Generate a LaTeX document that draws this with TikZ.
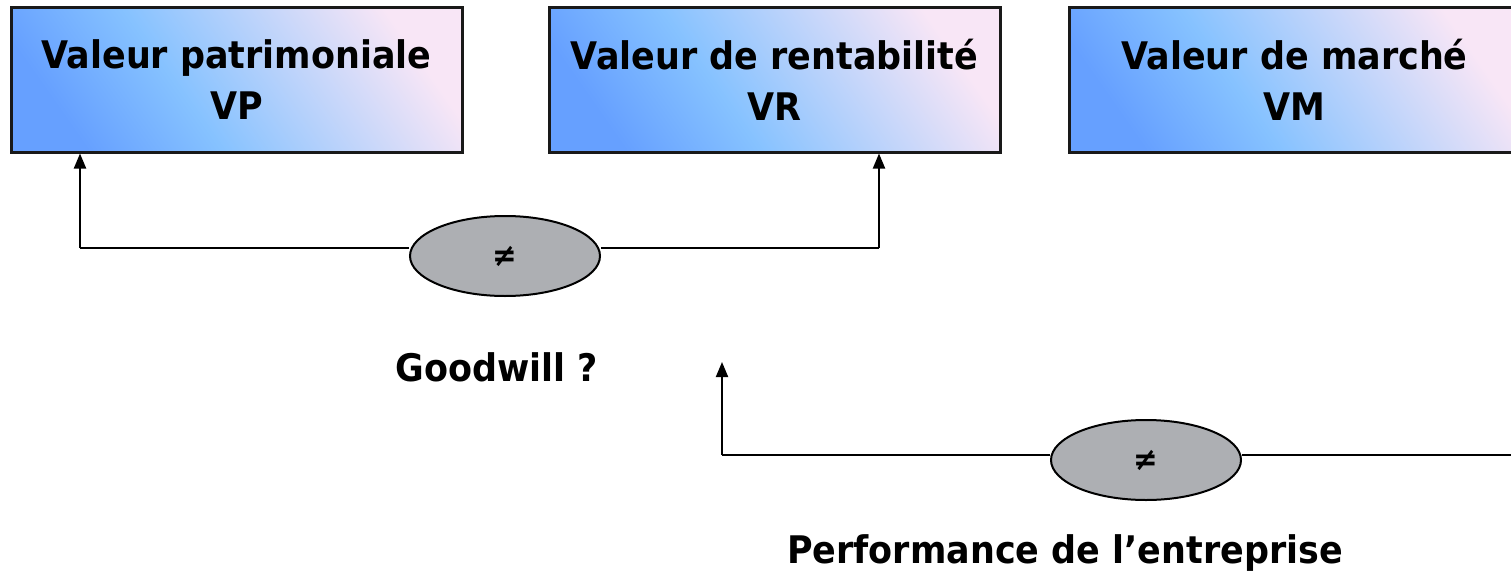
\documentclass[tikz,border=0pt]{standalone}
\usepackage{fontspec}
\setmainfont{DejaVu Sans}[FakeStretch=0.92]
\usetikzlibrary{shapes.geometric,arrows.meta}
\definecolor{boxdeep}{HTML}{66A0FF}
\definecolor{boxmid}{HTML}{86C2FF}
\definecolor{boxpale}{HTML}{F8E6F6}
\definecolor{ovalgray}{HTML}{ADAFB3}
% blue-to-pale fill of the value boxes, light blue reached early
\pgfdeclarehorizontalshading{valshade}{100bp}{%
  color(0bp)=(boxdeep); color(25bp)=(boxdeep); color(42bp)=(boxmid);
  color(75bp)=(boxpale); color(100bp)=(boxpale)}
\newcommand{\labfont}{\fontsize{38}{51}\selectfont\bfseries}
\newcommand{\symfont}{\fontsize{32}{36}\selectfont\bfseries}
\begin{document}
\begin{tikzpicture}[x=1pt,y=-1pt,
  valbox/.style={draw=black!90, line width=3pt, minimum width=451pt,
    minimum height=144pt, inner sep=0pt, align=center, font=\labfont,
    shading=valshade, shading angle=35},
  diffoval/.style={ellipse, draw=black, fill=ovalgray, line width=2pt,
    minimum width=190pt, minimum height=80pt, inner sep=0pt, font=\symfont},
  caption/.style={font=\labfont, inner sep=0pt},
  link/.style={line width=2pt},
  arr/.style={link, -{Triangle[width=12pt,length=15pt]}}
]
\useasboundingbox (0,0) rectangle (1511,578);

% the three valuations
\node[valbox] (vp) at (236.5,80) {Valeur patrimoniale\\VP};
\node[valbox] (vr) at (774.5,80) {Valeur de rentabilité\\VR};
\node[valbox] (vm) at (1294.5,80) {Valeur de marché\\VM};

% VP versus VR
\node[diffoval] (d1) at (505,256) {≠};
\coordinate (c1l) at (80,248);
\coordinate (c1r) at (879,248);
\draw[link] (d1.west |- c1l) -- (c1l);
\draw[arr] (c1l) -- (c1l |- vp.south);
\draw[link] (d1.east |- c1r) -- (c1r);
\draw[arr] (c1r) -- (c1r |- vr.south);
\node[caption] (gw) at (497,367) {Goodwill ?};

% VR versus VM
\node[diffoval] (d2) at (1146,460) {≠};
\coordinate (c2l) at (722,455);
\coordinate (c2tip) at (722,362);
\coordinate (c2r) at (1511,455);
\draw[link] (d2.west |- c2l) -- (c2l);
\draw[arr] (c2l) -- (c2tip);
\draw[link] (d2.east |- c2r) -- (c2r);
\node[caption] (perf) at (1065,553) {Performance de l’entreprise};
\end{tikzpicture}
\end{document}
